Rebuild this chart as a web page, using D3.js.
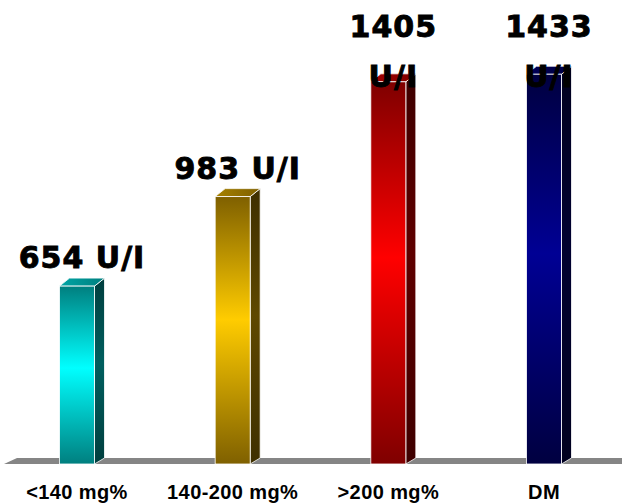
<!DOCTYPE html>
<html>
<head>
<meta charset="utf-8">
<script src="https://cdn.jsdelivr.net/npm/d3@7"></script>
<style>
  body { margin: 0; background: #fff; }
  svg { display: block; }
</style>
</head>
<body>
<svg id="chart" width="622" height="504"></svg>
<script>
// chart data
const categories = ["<140 mg%", "140-200 mg%", ">200 mg%", "DM"];
const values = [654, 983, 1405, 1433];
const valueLabels = ["654 U/I", "983 U/I", "1405 U/I", "1433 U/I"];

// colour per bar: [dark, bright]
const barColors = [
    ["#007f7f", "#00ffff"],
    ["#7f6000", "#ffcc00"],
    ["#7f0000", "#ff0000"],
    ["#000040", "#000094"]
];

const svg = d3.select("#chart");
const width = +svg.attr("width");

const baseY = 464;
const depthX = 10, depthY = 8;
const barW = 35;

const x = d3.scalePoint().domain(categories).range([77, 544]);
const y = d3.scaleLinear().domain([0, 1700]).range([baseY, baseY - 1700 * 0.272]);

const defs = svg.append("defs");

barColors.forEach((c, i) => {
    const front = defs.append("linearGradient")
        .attr("id", "front" + i).attr("x1", 0).attr("y1", 0).attr("x2", 0).attr("y2", 1);
    front.append("stop").attr("offset", "0%").attr("stop-color", c[0]);
    front.append("stop").attr("offset", "46%").attr("stop-color", c[1]);
    front.append("stop").attr("offset", "100%").attr("stop-color", c[0]);

    const dark = d3.color(c[0]).darker(2).formatHex();
    const mid = d3.color(c[0]).darker(0.8).formatHex();
    const side = defs.append("linearGradient")
        .attr("id", "side" + i).attr("x1", 0).attr("y1", 0).attr("x2", 0).attr("y2", 1);
    side.append("stop").attr("offset", "0%").attr("stop-color", dark);
    side.append("stop").attr("offset", "46%").attr("stop-color", mid);
    side.append("stop").attr("offset", "100%").attr("stop-color", dark);

    const top = defs.append("linearGradient")
        .attr("id", "top" + i).attr("x1", 0).attr("y1", 0).attr("x2", 1).attr("y2", 0);
    top.append("stop").attr("offset", "0%").attr("stop-color", d3.interpolateRgb(c[0], c[1])(0.3));
    top.append("stop").attr("offset", "100%").attr("stop-color", c[0]);
});

// floor
svg.append("path")
    .attr("d", `M4,${baseY} L${4 + 13},${baseY - 6} L${width},${baseY - 6} L${width},${baseY} Z`)
    .attr("fill", "#858585");

const data = categories.map((c, i) => ({ cat: c, value: values[i], label: valueLabels[i], i }));

const bars = svg.append("g").selectAll("g")
    .data(data)
    .join("g");

// side face
bars.append("path")
    .attr("d", d => {
        const x1 = x(d.cat) + barW / 2, yt = y(d.value);
        return `M${x1},${baseY} L${x1},${yt} L${x1 + depthX},${yt - depthY} L${x1 + depthX},${baseY - 6} Z`;
    })
    .attr("fill", d => `url(#side${d.i})`)
    .attr("stroke", "#fff").attr("stroke-width", 0.8);

// top face
bars.append("path")
    .attr("d", d => {
        const x0 = x(d.cat) - barW / 2, x1 = x0 + barW, yt = y(d.value);
        return `M${x0},${yt} L${x0 + depthX},${yt - depthY} L${x1 + depthX},${yt - depthY} L${x1},${yt} Z`;
    })
    .attr("fill", d => `url(#top${d.i})`)
    .attr("stroke", "#fff").attr("stroke-width", 0.8);

// front face
bars.append("rect")
    .attr("x", d => x(d.cat) - barW / 2)
    .attr("y", d => y(d.value))
    .attr("width", barW)
    .attr("height", d => baseY - y(d.value))
    .attr("fill", d => `url(#front${d.i})`)
    .attr("stroke", "#fff").attr("stroke-width", 0.8);

// value labels: long ones wrap onto two lines like the text box did
const labelFont = "DejaVu Sans, sans-serif";
bars.append("text")
    .attr("text-anchor", "middle")
    .attr("font-family", labelFont)
    .attr("font-weight", "bold")
    .attr("font-size", 30)
    .attr("letter-spacing", 1)
    .attr("fill", "#000")
    .attr("stroke", "#000")
    .attr("stroke-width", 0.9)
    .each(function (d) {
        const t = d3.select(this);
        const cx = x(d.cat) + depthX / 2;
        const yb = y(d.value) - depthY - 10;
        const probe = t.append("tspan").text(d.label);
        const w = this.getComputedTextLength();
        probe.remove();
        if (w > 135) {
            const parts = d.label.split(" ");
            t.append("tspan").attr("x", cx).attr("y", 37).text(parts[0]);
            t.append("tspan").attr("x", cx).attr("y", 87).text(parts[1]);
        } else {
            t.append("tspan").attr("x", cx).attr("y", yb).text(d.label);
        }
    });

// category labels
svg.append("g").selectAll("text")
    .data(categories)
    .join("text")
    .attr("x", d => x(d))
    .attr("y", 499)
    .attr("text-anchor", "middle")
    .attr("font-family", "Liberation Sans, Arial, sans-serif")
    .attr("font-weight", "bold")
    .attr("font-size", 20)
    .attr("letter-spacing", 0.4)
    .text(d => d);
</script>
</body>
</html>
